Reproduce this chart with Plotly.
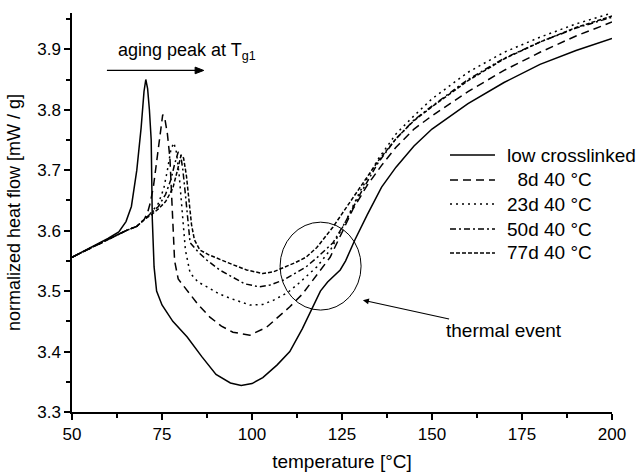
import plotly.graph_objects as go

# ---- data ----
t_low = [50, 55, 60, 63, 65, 66.5, 68, 69.2, 70, 70.5, 71, 71.5, 72, 72.3, 72.8, 73.5, 75, 78, 82, 86, 90, 94,
         97, 100, 103, 107, 110.5, 114, 117, 119, 121, 123, 124.5, 126, 128.6, 132, 136, 140, 145, 150, 160,
         170, 180, 190, 200]
v_low = [3.556, 3.571, 3.587, 3.598, 3.615, 3.64, 3.70, 3.77, 3.83, 3.85, 3.835, 3.80, 3.75, 3.62, 3.54, 3.50,
         3.477, 3.45, 3.424, 3.392, 3.362, 3.348, 3.344, 3.347, 3.357, 3.378, 3.40, 3.438, 3.474, 3.50, 3.515,
         3.526, 3.535, 3.55, 3.585, 3.626, 3.672, 3.705, 3.74, 3.768, 3.81, 3.845, 3.875, 3.898, 3.918]

t_8d = [50, 55, 60, 65, 68, 70, 71, 71.7, 72.6, 74, 75.2, 75.8, 76.5, 77.2, 77.7, 78, 78.5, 79.5, 82, 85, 88.3,
        91.5, 94.7, 99.4, 104, 107, 110.5, 114, 117, 121.7, 125, 128, 132, 136, 140, 145, 150, 160, 170, 180,
        190, 200]
v_8d = [3.556, 3.571, 3.586, 3.600, 3.607, 3.618, 3.63, 3.645, 3.672, 3.733, 3.792, 3.785, 3.76, 3.72, 3.66,
        3.60, 3.55, 3.52, 3.50, 3.478, 3.457, 3.442, 3.432, 3.427, 3.44, 3.455, 3.474, 3.495, 3.518, 3.556,
        3.597, 3.635, 3.675, 3.708, 3.738, 3.768, 3.79, 3.83, 3.865, 3.895, 3.922, 3.945]

t_23d = [50, 55, 60, 65, 68, 70, 72, 74, 75.5, 76.5, 77.5, 78.3, 79, 79.8, 80.5, 81, 81.5, 82.8, 85, 87.5, 91,
         94, 99.4, 103, 106, 110, 113, 118, 122, 126, 130, 135, 140, 145, 150, 160, 170, 180, 190, 200]
v_23d = [3.556, 3.571, 3.586, 3.600, 3.607, 3.618, 3.63, 3.645, 3.67, 3.70, 3.735, 3.745, 3.73, 3.69, 3.64,
         3.60, 3.568, 3.53, 3.515, 3.507, 3.495, 3.488, 3.477, 3.478, 3.485, 3.498, 3.513, 3.54, 3.57, 3.615,
         3.665, 3.718, 3.76, 3.79, 3.818, 3.862, 3.895, 3.92, 3.942, 3.96]

t_50d = [50, 55, 60, 65, 68, 70, 72, 74, 76, 77.5, 78.5, 79.5, 80.2, 80.8, 81.5, 82.2, 82.8, 85, 87.5, 91, 94.7,
         98, 102, 105, 108.6, 115, 118, 122.5, 126, 130, 135, 140, 145, 150, 160, 170, 180, 190, 200]
v_50d = [3.556, 3.571, 3.586, 3.600, 3.607, 3.618, 3.628, 3.64, 3.66, 3.685, 3.71, 3.73, 3.725, 3.70, 3.66,
         3.62, 3.58, 3.565, 3.551, 3.535, 3.523, 3.512, 3.507, 3.51, 3.518, 3.54, 3.555, 3.58, 3.615, 3.66,
         3.712, 3.752, 3.783, 3.806, 3.85, 3.885, 3.912, 3.935, 3.953]

t_77d = [50, 55, 60, 65, 68, 70, 72, 74, 76, 78, 79.3, 80.3, 81, 81.8, 82.5, 83.2, 84, 85.5, 88, 92, 95, 98.5,
         103, 106, 108.6, 112, 115, 118, 122.5, 126, 130, 135, 140, 145, 150, 160, 170, 180, 190, 200]
v_77d = [3.556, 3.571, 3.586, 3.600, 3.607, 3.618, 3.626, 3.636, 3.648, 3.67, 3.70, 3.725, 3.72, 3.69, 3.65,
         3.61, 3.585, 3.568, 3.56, 3.551, 3.543, 3.535, 3.529, 3.532, 3.538, 3.547, 3.556, 3.572, 3.606, 3.636,
         3.67, 3.715, 3.752, 3.782, 3.805, 3.848, 3.884, 3.912, 3.936, 3.955]

names = ["low crosslinked", "\u00a0\u00a08d 40 °C", "23d 40 °C", "50d 40 °C", "77d 40 °C"]
dashes = ["solid", "8px,5px", "2px,4px", "6px,3px,2px,3px", "4px,2px"]
xs = [t_low, t_8d, t_23d, t_50d, t_77d]
ys = [v_low, v_8d, v_23d, v_50d, v_77d]

FONT = "Liberation Sans, Arial, sans-serif"

fig = go.Figure()
for i, (x, y, n, d) in enumerate(zip(xs, ys, names, dashes)):
    fig.add_trace(go.Scatter(x=x, y=y, mode="lines", name=n, showlegend=False,
                             line=dict(color="black", width=1.5, dash=d)))

# hand-placed legend (paper coordinates inside the plot area)
leg_rows = [0.6441, 0.5815, 0.5213, 0.4586, 0.3985]
for n, d, yy in zip(names, dashes, leg_rows):
    fig.add_shape(type="line", xref="paper", yref="paper", x0=0.700, x1=0.7833, y0=yy, y1=yy,
                  line=dict(color="black", width=1.5, dash=d))
    fig.add_annotation(x=0.8019, y=yy, xref="paper", yref="paper", text=n, showarrow=False,
                       xanchor="left", yanchor="middle",
                       font=dict(size=19, color="black", family=FONT))

# thermal event circle
fig.add_shape(type="circle", xref="x", yref="y", x0=107.8, x1=130.3, y0=3.4686, y1=3.614,
              line=dict(color="black", width=1))

# aging-peak arrow (line + arrowhead)
fig.add_shape(type="line", xref="x", yref="y", x0=59.7, x1=85.0, y0=3.865, y1=3.865,
              line=dict(color="black", width=1.2))
fig.add_shape(type="path", xref="x", yref="y", path="M 86.6 3.865 L 84.2 3.8705 L 84.2 3.8595 Z",
              fillcolor="black", line=dict(color="black", width=1))
fig.add_annotation(x=82.0, y=3.897, xref="x", yref="y", text="aging peak at T<sub>g1</sub>",
                   showarrow=False, font=dict(size=18, color="black", family=FONT))
fig.add_annotation(x=130.8, y=3.485, ax=170.0, ay=3.434, xref="x", yref="y", axref="x", ayref="y",
                   text="thermal event", showarrow=True, arrowhead=2, arrowsize=1, arrowwidth=1.2,
                   arrowcolor="black", font=dict(size=19, color="black", family=FONT))

axis_common = dict(showline=True, linecolor="black", linewidth=1.5, ticks="outside", ticklen=6,
                   tickwidth=1.5, tickcolor="black", showgrid=False, zeroline=False,
                   tickfont=dict(size=17, color="black", family=FONT), automargin=False)

fig.update_layout(
    width=641, height=474,
    margin=dict(l=72, r=29, t=13, b=62),
    paper_bgcolor="white", plot_bgcolor="white",
    font=dict(family=FONT, color="black"),
    showlegend=False,
    xaxis=dict(range=[50, 200], tickvals=[50, 75, 100, 125, 150, 175, 200],
               minor=dict(dtick=12.5, ticks="outside", ticklen=4, tickcolor="black", tickwidth=1.5),
               title=dict(text="temperature [°C]", font=dict(size=19, color="black", family=FONT), standoff=12),
               **axis_common),
    yaxis=dict(range=[3.3, 3.96], tickvals=[3.3, 3.4, 3.5, 3.6, 3.7, 3.8, 3.9],
               ticktext=["3.3", "3.4", "3.5", "3.6", "3.7", "3.8", "3.9"],
               minor=dict(dtick=0.05, tick0=3.3, ticks="outside", ticklen=4, tickcolor="black", tickwidth=1.5),
               title=dict(text="normalized heat flow [mW / g]", font=dict(size=18, color="black", family=FONT), standoff=12),
               **axis_common),
)

fig.write_html("out.html")
